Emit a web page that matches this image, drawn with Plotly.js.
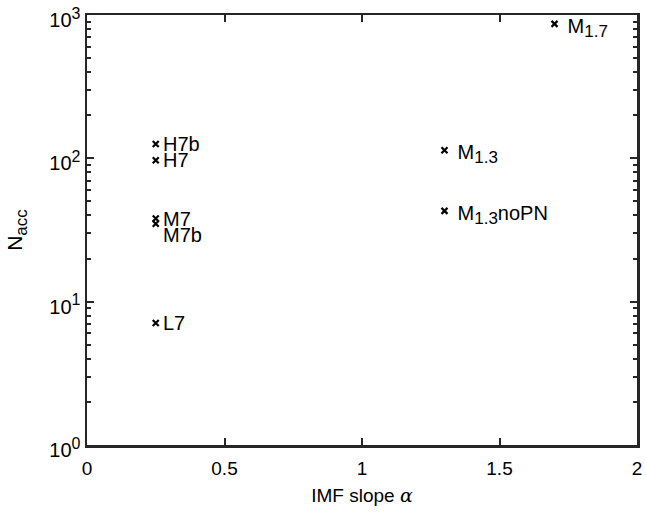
<!DOCTYPE html>
<html>
<head>
<meta charset="utf-8">
<script src="https://cdn.plot.ly/plotly-3.0.1.min.js"></script>
<style>html,body{margin:0;padding:0;background:#fff;}#chart{width:646px;height:514px;}</style>
</head>
<body>
<div id="chart"></div>
<script>
// Data
const names = ["H7b", "H7", "M7", "M7b", "L7", "\u00a0M<sub>1.3</sub>", "\u00a0M<sub>1.3</sub>noPN", "\u00a0M<sub>1.7</sub>"];
const alphaVals = [0.25, 0.25, 0.25, 0.25, 0.25, 1.3, 1.3, 1.7];
const nAcc = [126, 97, 38, 35, 7.1, 114, 43, 867];
const labelBelow = [false, false, false, true, false, false, false, false];
const xTickVals = [0, 0.5, 1, 1.5, 2];
const xTickText = ["0", "0.5", "1", "1.5", "2"];
const yTickVals = [1, 10, 100, 1000];
const yTickExp = ["0", "1", "2", "3"];
const minorMultipliers = [2, 3, 4, 5, 6, 7, 8, 9];

// minor tick positions of the log axis: multipliers within each decade
const yMinorVals = [];
for (let d = 0; d < yTickVals.length - 1; d++) {
  minorMultipliers.forEach(m => yMinorVals.push(yTickVals[d] * m));
}

const font = "Liberation Sans, Arial, Helvetica, sans-serif";
const axCol = "#262626";
const big = s => s.replace(/<sub>(.*?)<\/sub>/g, '<sub><span style="font-size:17px">$1</span></sub>');
const yTickText = yTickExp.map(e => '10<sup><span style="font-size:16px">' + e + '</span></sup>');

const trace = {
  x: alphaVals, y: nAcc,
  mode: "markers", type: "scatter",
  marker: {symbol: "x-thin", size: 6, color: "#000", line: {color: "#000", width: 2.2}},
  hoverinfo: "skip"
};
const ghostL = {x: alphaVals, y: nAcc, yaxis: "y2", mode: "markers", marker: {opacity: 0}, hoverinfo: "skip"};
const ghostR = {x: alphaVals, y: nAcc, yaxis: "y3", mode: "markers", marker: {opacity: 0}, hoverinfo: "skip"};

const annotations = names.map((n, i) => ({
  x: alphaVals[i],
  y: Math.log10(nAcc[i]),
  xref: "x", yref: "y",
  text: big(n),
  showarrow: false,
  xanchor: "left",
  yanchor: labelBelow[i] ? "top" : "middle",
  xshift: 5,
  yshift: labelBelow[i] ? 2 : (n.indexOf("<sub>") >= 0 ? -4 : 0),
  font: {family: font, size: 20, color: "#000"}
}));

const minorAxis = (side) => ({
  type: "log", range: [0, 3], overlaying: "y", side: side,
  tickvals: yMinorVals, ticks: "inside", ticklen: 4, tickwidth: 2, tickcolor: axCol,
  showticklabels: false, showline: false, showgrid: false, zeroline: false
});

const layout = {
  width: 646, height: 514,
  margin: {l: 87, r: 9, t: 15, b: 69},
  paper_bgcolor: "#fff", plot_bgcolor: "rgba(0,0,0,0)",
  showlegend: false,
  font: {family: font, size: 19, color: "#000"},
  xaxis: {
    range: [0, 2],
    tickvals: xTickVals, ticktext: xTickText,
    ticks: "inside", ticklen: 7, tickwidth: 2, tickcolor: axCol,
    showline: true, linewidth: 2.5, linecolor: axCol, mirror: "ticks",
    showgrid: false, zeroline: false,
    ticklabelstandoff: 5,
    tickfont: {family: font, size: 19, color: "#000"},
    title: {text: "IMF slope <span style=\"font-family:DejaVu Serif, serif;font-style:italic\">α</span>", font: {family: font, size: 19, color: "#000"}, standoff: 11}
  },
  yaxis: {
    type: "log", range: [0, 3],
    tickvals: yTickVals, ticktext: yTickText,
    ticks: "inside", ticklen: 7, tickwidth: 2, tickcolor: axCol,
    showline: true, linewidth: 2.5, linecolor: axCol, mirror: "ticks",
    showgrid: false, zeroline: false,
    ticklabelshift: 5,
    tickfont: {family: font, size: 20, color: "#000"},
    title: {text: "N<sub><span style=\"font-size:17px\">acc</span></sub>", font: {family: font, size: 21, color: "#000"}, standoff: 21}
  },
  yaxis2: minorAxis("left"),
  yaxis3: minorAxis("right"),
  annotations: annotations
};

Plotly.newPlot("chart", [trace, ghostL, ghostR], layout, {displayModeBar: false, staticPlot: true});
</script>
</body>
</html>
